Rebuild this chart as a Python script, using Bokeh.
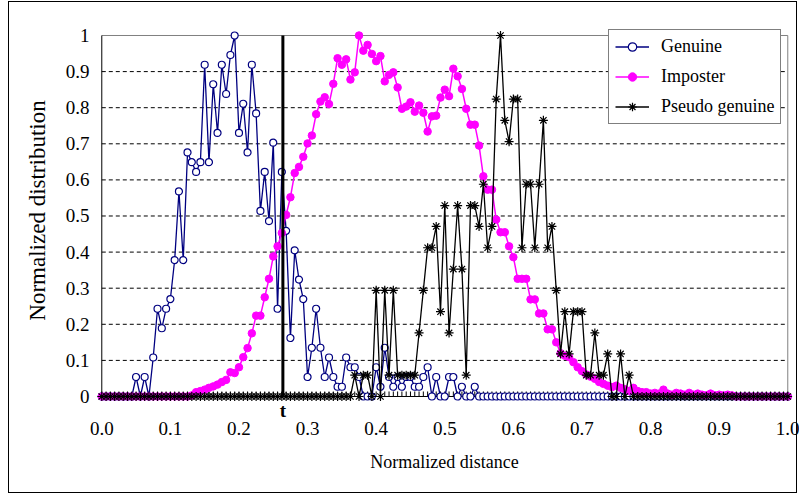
from bokeh.plotting import figure
from bokeh.models import Range1d, FixedTicker, CustomJSTickFormatter, Legend, LegendItem
from bokeh.core.properties import value
from bokeh.embed import file_html
from bokeh.resources import INLINE

# ---------------- data ----------------
# 161 categories, normalized distance 0.0 .. 1.0 in steps of 1/160
distance = [i / 160 for i in range(161)]

genuine = [
    0, 0, 0, 0, 0, 0, 0, 0, 0.054, 0,
    0.054, 0, 0.108, 0.243, 0.189, 0.243, 0.270, 0.378, 0.568, 0.378,
    0.676, 0.649, 0.622, 0.649, 0.919, 0.649, 0.865, 0.730, 0.919, 0.838,
    0.946, 1.0, 0.730, 0.811, 0.676, 0.919, 0.784, 0.514, 0.622, 0.486,
    0.703, 0.243, 0.622, 0.459, 0.162, 0.405, 0.324, 0.270, 0.054, 0.135,
    0.243, 0.135, 0.054, 0.108, 0.054, 0.027, 0.027, 0.108, 0.081, 0.081,
    0.054, 0, 0, 0, 0.081, 0.027, 0.135, 0.054, 0.027, 0.054,
    0.027, 0.054, 0.054, 0.027, 0.027, 0.054, 0.081, 0, 0.054, 0,
    0, 0.054, 0.054, 0, 0.027, 0, 0, 0.027, 0, 0,
    0, 0, 0, 0, 0, 0, 0, 0, 0, 0,
    0, 0, 0, 0, 0, 0, 0, 0, 0, 0,
    0, 0, 0, 0, 0, 0, 0, 0, 0, 0,
    0, 0, 0, 0, 0, 0, 0, 0, 0, 0,
    0, 0, 0, 0, 0, 0, 0, 0, 0, 0,
    0, 0, 0, 0, 0, 0, 0, 0, 0, 0,
    0, 0, 0, 0, 0, 0, 0, 0, 0, 0,
    0,
]

imposter = [
    0, 0, 0, 0, 0, 0, 0, 0, 0, 0,
    0, 0, 0, 0, 0, 0, 0, 0, 0, 0,
    0, 0.003, 0.012, 0.015, 0.019, 0.024, 0.028, 0.033, 0.040, 0.046,
    0.067, 0.065, 0.081, 0.109, 0.134, 0.175, 0.224, 0.224, 0.275, 0.326,
    0.388, 0.416, 0.453, 0.503, 0.552, 0.619, 0.636, 0.664, 0.701, 0.723,
    0.782, 0.817, 0.829, 0.810, 0.866, 0.937, 0.919, 0.934, 0.878, 0.898,
    1.0, 0.958, 0.974, 0.949, 0.929, 0.943, 0.873, 0.891, 0.898, 0.856,
    0.797, 0.803, 0.815, 0.789, 0.806, 0.786, 0.734, 0.776, 0.778, 0.828,
    0.850, 0.832, 0.908, 0.887, 0.852, 0.797, 0.753, 0.753, 0.695, 0.610,
    0.573, 0.573, 0.490, 0.455, 0.455, 0.416, 0.386, 0.326, 0.326, 0.326,
    0.269, 0.269, 0.230, 0.230, 0.186, 0.186, 0.150, 0.120, 0.113, 0.109,
    0.095, 0.081, 0.070, 0.061, 0.055, 0.049, 0.040, 0.035, 0.030, 0.026,
    0.030, 0.024, 0.020, 0.015, 0.024, 0.015, 0.012, 0.012, 0.008, 0.010,
    0.008, 0.019, 0.008, 0.005, 0.010, 0.008, 0.005, 0.010, 0.005, 0.008,
    0.005, 0.003, 0.008, 0.003, 0.005, 0.003, 0.005, 0.003, 0, 0,
    0, 0, 0, 0, 0, 0, 0, 0, 0, 0,
    0,
]

pseudo_genuine = [
    0, 0, 0, 0, 0, 0, 0, 0, 0, 0,
    0, 0, 0, 0, 0, 0, 0, 0, 0, 0,
    0, 0, 0, 0, 0, 0, 0, 0, 0, 0,
    0, 0, 0, 0, 0, 0, 0, 0, 0, 0,
    0, 0, 0, 0, 0, 0, 0, 0, 0, 0,
    0, 0, 0, 0, 0, 0, 0, 0, 0, 0.059,
    0, 0.059, 0.059, 0, 0.294, 0, 0.294, 0.059, 0.294, 0.059,
    0.059, 0.059, 0.059, 0.059, 0.176, 0.294, 0.412, 0.412, 0.471, 0.235,
    0.529, 0.176, 0.353, 0.529, 0.353, 0.059, 0.529, 0.529, 0.471, 0.588,
    0.412, 0.471, 0.824, 1.0, 0.765, 0.706, 0.824, 0.824, 0.412, 0.588,
    0.588, 0.412, 0.588, 0.765, 0.412, 0.471, 0.294, 0.118, 0.235, 0.118,
    0.235, 0.235, 0.235, 0.059, 0.059, 0.176, 0.059, 0.059, 0.118, 0,
    0, 0.118, 0, 0.059, 0, 0, 0, 0, 0, 0,
    0, 0, 0, 0, 0, 0, 0, 0, 0, 0,
    0, 0, 0, 0, 0, 0, 0, 0, 0, 0,
    0, 0, 0, 0, 0, 0, 0, 0, 0, 0,
    0,
]

t_threshold = 0.264
x_ticks = [0.0, 0.1, 0.2, 0.3, 0.4, 0.5, 0.6, 0.7, 0.8, 0.9, 1.0]
y_ticks = [0, 0.1, 0.2, 0.3, 0.4, 0.5, 0.6, 0.7, 0.8, 0.9, 1]
grid_levels = [0.1, 0.2, 0.3, 0.4, 0.5, 0.6, 0.7, 0.8, 0.9]

FONT = "Liberation Serif"
TICK_LEN = 0.0139  # inward category tick length (about 5 px)

# ---------------- figure ----------------
p = figure(width=799, height=495, output_backend="svg", toolbar_location=None,
           x_range=Range1d(-0.0077, 1.0069), y_range=Range1d(-0.0665, 1.09695),
           min_border_left=96, min_border_right=7, min_border_top=0,
           min_border_bottom=75)
p.outline_line_color = None
p.xgrid.visible = False
p.ygrid.visible = False
p.background_fill_color = "white"
p.border_fill_color = "white"

# dashed horizontal grid lines
p.segment(x0=[0] * len(grid_levels), x1=[1] * len(grid_levels),
          y0=grid_levels, y1=grid_levels, line_color="black",
          line_width=1, line_dash="4 3")
# grey top / right frame lines
p.segment(x0=[0, 1], x1=[1, 1], y0=[1, 0], y1=[1, 1],
          line_color="#808080", line_width=1)
# black axis lines at x = 0 and y = 0, with inward category ticks
p.segment(x0=[0, 0], x1=[1, 0], y0=[0, 0], y1=[0, 1],
          line_color="black", line_width=1)
p.segment(x0=distance, x1=distance, y0=[0] * len(distance),
          y1=[TICK_LEN] * len(distance), line_color="black", line_width=1)

# series
g_line = p.line(distance, genuine, line_color="#000080", line_width=1.3)
g_pts = p.scatter(distance, genuine, marker="circle", size=7,
                  line_color="#000080", fill_color="white", line_width=1.2)
i_line = p.line(distance, imposter, line_color="#FF00FF", line_width=1.5)
i_pts = p.scatter(distance, imposter, marker="circle", size=7.5,
                  line_color="#FF00FF", fill_color="#FF00FF")
s_line = p.line(distance, pseudo_genuine, line_color="black", line_width=1.3)
s_pts = p.scatter(distance, pseudo_genuine, marker="asterisk", size=9,
                  line_color="black", line_width=1.2)

# threshold line and its label
p.segment(x0=[t_threshold], x1=[t_threshold], y0=[0], y1=[1],
          line_color="black", line_width=3)
p.text(x=[t_threshold], y=[-0.04], text=["t"], text_align="center",
       text_baseline="middle", text_font=value(FONT), text_font_size="19px",
       text_font_style="bold", text_color="black")

# ---------------- axes ----------------
xa = p.xaxis[0]
xa.ticker = FixedTicker(ticks=x_ticks, minor_ticks=[])
xa.formatter = CustomJSTickFormatter(code="return tick.toFixed(1);")
xa.axis_line_color = None
xa.major_tick_line_color = None
xa.minor_tick_line_color = None
xa.major_tick_in = 0
xa.major_tick_out = 0
xa.major_label_standoff = 1
xa.major_label_text_font = FONT
xa.major_label_text_font_size = "19px"
xa.major_label_text_color = "black"
xa.axis_label = "Normalized distance"
xa.axis_label_text_font = FONT
xa.axis_label_text_font_size = "18px"
xa.axis_label_text_font_style = "normal"
xa.axis_label_text_color = "black"
xa.axis_label_standoff = 14

ya = p.yaxis[0]
ya.ticker = FixedTicker(ticks=y_ticks, minor_ticks=[])
ya.formatter = CustomJSTickFormatter(
    code="var s = tick.toFixed(1); return s.replace(/\\.0$/, '');")
ya.axis_line_color = None
ya.major_tick_line_color = None
ya.minor_tick_line_color = None
ya.major_tick_in = 0
ya.major_tick_out = 0
ya.major_label_standoff = 7
ya.major_label_text_font = FONT
ya.major_label_text_font_size = "19px"
ya.major_label_text_color = "black"
ya.axis_label = "Normalized distribution"
ya.axis_label_text_font = FONT
ya.axis_label_text_font_size = "23px"
ya.axis_label_text_font_style = "normal"
ya.axis_label_text_color = "black"
ya.axis_label_standoff = 13

# ---------------- legend ----------------
legend = Legend(items=[
    LegendItem(label="Genuine", renderers=[g_line, g_pts]),
    LegendItem(label="Imposter", renderers=[i_line, i_pts]),
    LegendItem(label="Pseudo genuine", renderers=[s_line, s_pts]),
], location=(512, 296))
legend.label_text_font = FONT
legend.label_text_font_size = "18px"
legend.label_text_color = "black"
legend.glyph_width = 34
legend.glyph_height = 21
legend.label_height = 21
legend.spacing = 9
legend.padding = 6
legend.margin = 0
legend.label_standoff = 12
legend.border_line_color = "black"
legend.border_line_width = 1
legend.background_fill_color = "white"
legend.background_fill_alpha = 1
p.add_layout(legend)

# page-level outer chart border drawn over the plot
page_extra = """
{% block postamble %}
<style>
  body::after {
    content: "";
    position: fixed;
    left: 8px;
    top: 1px;
    width: 789px;
    height: 492px;
    border: 1px solid black;
    box-sizing: border-box;
    pointer-events: none;
    z-index: 10;
  }
</style>
{% endblock %}
"""

open("out.html", "w").write(file_html(p, INLINE, template=page_extra))
